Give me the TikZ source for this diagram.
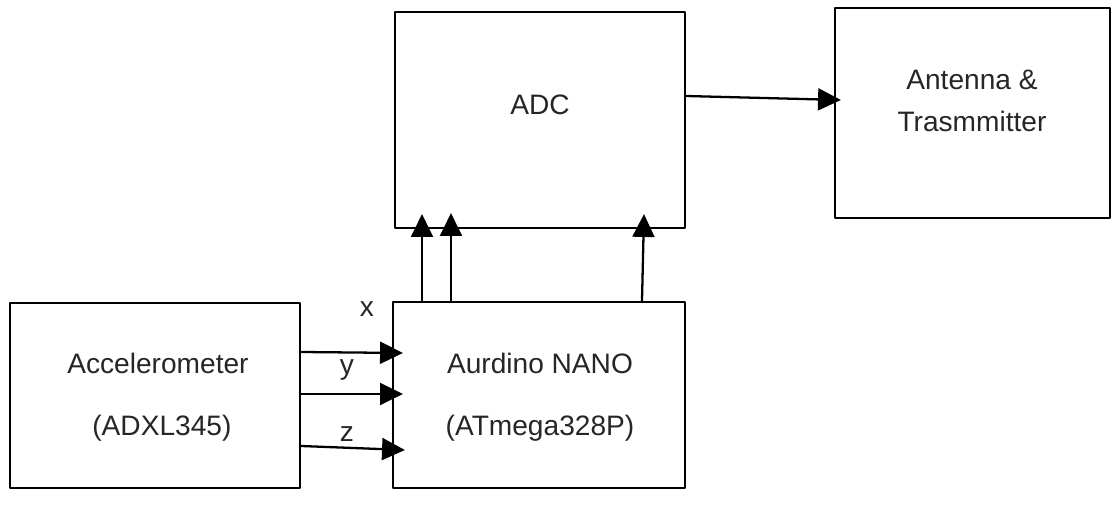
\documentclass[tikz,border=0pt]{standalone}
\usepackage{fontspec}
\setmainfont{Liberation Sans}
\usetikzlibrary{arrows.meta,calc}
\begin{document}
\begin{tikzpicture}[x=0.02cm,y=-0.02cm,line cap=round,line join=round,
  blk/.style={draw,line width=1.3pt,inner sep=0pt},
  txt/.style={font=\fontsize{16}{20}\selectfont,text=black!85,align=center,inner sep=0pt},
  arr/.style={line width=1.3pt,-{Triangle[length=13pt,width=12.5pt]}}]
  \useasboundingbox (0,0) rectangle (1117,516);
  % blocks
  \node[blk,minimum width=5.8cm,minimum height=4.32cm] (adc) at (540,120) {};
  \node[blk,minimum width=5.5cm,minimum height=4.2cm] (ant) at (972.5,113) {};
  \node[blk,minimum width=5.8cm,minimum height=3.7cm] (acc) at (155,395.5) {};
  \node[blk,minimum width=5.84cm,minimum height=3.72cm] (nano) at (539,395) {};
  % texts
  \node[txt] (adct) at (540,105) {ADC};
  \node[txt,font=\fontsize{16}{24}\selectfont] (antt) at (972,101) {Antenna \&\\Trasmmitter};
  \node[txt,font=\fontsize{16}{35}\selectfont] (acct) at (158,397) {Accelerometer\\\ (ADXL345)};
  \node[txt,font=\fontsize{16}{35}\selectfont] (nanot) at (540,397) {Aurdino NANO\\(ATmega328P)};
  % axis signals
  \draw[arr] (acc.east |- 0,352) -- ($(nano.west |- 0,353)+(11,0)$);
  \draw[arr] (acc.east |- 0,394) -- ($(nano.west |- 0,394)+(11,0)$);
  \draw[arr] (acc.east |- 0,446) -- ($(nano.west |- 0,450)+(13,0)$);
  \node[txt] (lx) at (367,309) {x};
  \node[txt] (ly) at (347,370) {y};
  \node[txt] (lz) at (347,434) {z};
  % to ADC
  \draw[arr] (nano.north -| 422,0) -- ($(adc.south -| 422,0)+(0,-15)$);
  \draw[arr] (nano.north -| 451,0) -- ($(adc.south -| 451,0)+(0,-16)$);
  \draw[arr] (nano.north -| 642,0) -- ($(adc.south -| 644,0)+(0,-15)$);
  % to antenna
  \draw[arr] (adc.east |- 0,96) -- ($(ant.west |- 0,100)+(7,0)$);
\end{tikzpicture}
\end{document}
